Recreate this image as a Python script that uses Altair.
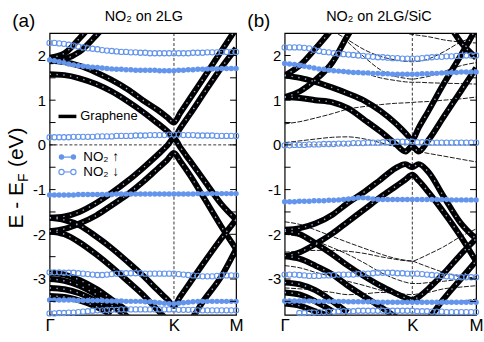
import altair as alt
import pandas as pd

FONT = "Liberation Sans"
BLUE = "#6495ED"

# ---- path coordinate along Γ–K–M (Γ = 0, K = 2/3, M = 1) ----
K_POS = 0.667
G = [0, 0.08, 0.16, 0.25, 0.33, 0.42, 0.5, 0.58, 0.63, 0.667, 0.7, 0.75, 0.83, 0.92, 1.0]
KM = [round(i / 39, 4) for i in range(40)]  # k-points carrying the NO2 projections
Y_TICKS = [-3, -2, -1, 0, 1, 2]
MINOR_TICKS = [-3.5, -3, -2.5, -2, -1.5, -1, -0.5, 0, 0.5, 1, 1.5, 2]

# ---- panel (a): graphene bands (eV) on grid G ----
a_C2 = [1.88, 1.85, 1.77, 1.62, 1.46, 1.24, 1.0, 0.78, 0.62, 0.5, 0.71, 1.02, 1.52, 2.09, 2.6]
a_C1 = [1.58, 1.56, 1.49, 1.36, 1.2, 0.97, 0.74, 0.48, 0.31, 0.16, 0.37, 0.67, 1.17, 1.72, 2.16]
a_V1 = [-1.63, -1.6, -1.5, -1.3, -1.08, -0.8, -0.52, -0.22, -0.02, 0.15, -0.05, -0.34, -0.8, -1.32, -1.67]
a_V2 = [-1.93, -1.88, -1.76, -1.58, -1.36, -1.1, -0.83, -0.53, -0.34, -0.18, -0.36, -0.66, -1.2, -1.82, -2.33]
a_D1 = [-1.63, -1.68, -1.8, -2.05, -2.3, -2.62, -2.92, -3.25, -3.45, -3.6, -3.4, -3.1, -2.62, -2.1, -1.67]
a_D2 = [-1.93, -2.0, -2.18, -2.45, -2.72, -3.05, -3.35, -3.7, -3.92, -4.1, -4.15, -3.95, -3.46, -2.95, -2.33]
a_T1 = [1.95, 2.05, 2.38, 2.8, None, None, None, None, None, None, None, None, None, None, None]
a_T2 = [1.87, 1.92, 2.08, 2.45, 2.8, None, None, None, None, None, None, None, None, None, None]
a_G1 = [-2.86, -2.9, -3.02, -3.22, -3.45, -3.72, None, None, None, None, None, None, None, None, None]
a_G2 = [-3.0, -3.04, -3.15, -3.35, -3.58, -3.85, None, None, None, None, None, None, None, None, None]
a_G3 = [-3.2, -3.23, -3.32, -3.5, -3.72, None, None, None, None, None, None, None, None, None, None]
a_G4 = [-3.38, -3.4, -3.48, -3.62, -3.8, None, None, None, None, None, None, None, None, None, None]

# ---- panel (a): NO2 projected bands on grid KM ----
a_up1 = [1.9, 1.88, 1.86, 1.84, 1.81, 1.79, 1.77, 1.76, 1.75, 1.74,
         1.73, 1.72, 1.71, 1.7, 1.69, 1.69, 1.68, 1.68, 1.67, 1.67,
         1.67, 1.67, 1.67, 1.66, 1.66, 1.66, 1.66, 1.67, 1.67, 1.68,
         1.68, 1.69, 1.69, 1.7, 1.7, 1.7, 1.71, 1.71, 1.71, 1.71]
a_up2 = [-1.12, -1.12, -1.12, -1.12, -1.12, -1.12, -1.11, -1.11, -1.11, -1.11,
         -1.11, -1.11, -1.11, -1.11, -1.1, -1.1, -1.1, -1.1, -1.1, -1.1,
         -1.1, -1.1, -1.1, -1.1, -1.1, -1.1, -1.1, -1.1, -1.1, -1.1,
         -1.1, -1.09, -1.09, -1.09, -1.09, -1.09, -1.09, -1.09, -1.09, -1.09]
a_up3 = [-3.47, -3.47, -3.47, -3.47, -3.47, -3.47, -3.48, -3.48, -3.48, -3.48,
         -3.48, -3.48, -3.49, -3.49, -3.49, -3.49, -3.5, -3.5, -3.5, -3.5,
         -3.51, -3.51, -3.52, -3.53, -3.54, -3.55, -3.55, -3.54, -3.53, -3.52,
         -3.51, -3.5, -3.5, -3.5, -3.5, -3.5, -3.5, -3.5, -3.5, -3.5]
a_dn1 = [2.28, 2.28, 2.27, 2.26, 2.24, 2.22, 2.2, 2.18, 2.16, 2.15,
         2.14, 2.12, 2.11, 2.1, 2.09, 2.08, 2.08, 2.07, 2.07, 2.06,
         2.06, 2.05, 2.05, 2.05, 2.05, 2.05, 2.05, 2.05, 2.05, 2.05,
         2.06, 2.06, 2.06, 2.07, 2.07, 2.07, 2.08, 2.08, 2.08, 2.08]
a_dn2 = [0.17, 0.17, 0.17, 0.17, 0.17, 0.18, 0.18, 0.18, 0.18, 0.18,
         0.19, 0.19, 0.19, 0.19, 0.2, 0.2, 0.2, 0.2, 0.21, 0.21,
         0.21, 0.22, 0.22, 0.22, 0.22, 0.23, 0.23, 0.23, 0.22, 0.22,
         0.22, 0.21, 0.21, 0.21, 0.21, 0.2, 0.2, 0.2, 0.2, 0.2]
a_dn3 = [-2.85, -2.85, -2.85, -2.86, -2.86, -2.86, -2.87, -2.88, -2.89, -2.9,
         -2.91, -2.91, -2.9, -2.89, -2.88, -2.87, -2.87, -2.87, -2.87, -2.87,
         -2.88, -2.88, -2.88, -2.88, -2.88, -2.88, -2.88, -2.89, -2.9, -2.91,
         -2.92, -2.93, -2.94, -2.94, -2.94, -2.93, -2.92, -2.92, -2.92, -2.92]
a_dn4 = [-3.77, -3.77, -3.76, -3.76, -3.75, -3.75, -3.74, -3.73, -3.72, -3.71,
         -3.7, -3.7, -3.69, -3.69, -3.69, -3.68, -3.68, -3.68, -3.68, -3.68,
         -3.68, -3.68, -3.68, -3.68, -3.68, -3.68, -3.68, -3.69, -3.69, -3.69,
         -3.69, -3.7, -3.7, -3.7, -3.7, -3.7, -3.7, -3.7, -3.7, -3.7]

# ---- panel (b): graphene bands on grid G ----
b_TBa = [1.55, 1.78, 2.15, 2.6, None, None, None, None, None, None, None, None, None, None, None]
b_TBb = [1.07, 1.2, 1.45, 1.85, 2.45, 3.0, None, None, None, None, None, None, None, None, None]
b_TBc = [None, None, None, None, None, None, None, None, None, None, None, None, 2.9, 2.3, 1.95]
b_CB2 = [1.55, 1.5, 1.41, 1.28, 1.15, 0.98, 0.76, 0.48, 0.27, 0.12, 0.38, 0.75, 1.36, 2.0, 2.6]
b_CB1 = [1.07, 1.05, 1.0, 0.95, 0.82, 0.55, 0.3, 0.02, -0.15, -0.03, -0.15, 0.1, 0.62, 1.2, 1.72]
b_VB1 = [-1.9, -1.86, -1.76, -1.56, -1.3, -1.04, -0.78, -0.52, -0.43, -0.5, -0.43, -0.6, -1.15, -1.75, -2.1]
b_VB2 = [-2.49, -2.4, -2.22, -1.98, -1.72, -1.43, -1.17, -0.93, -0.78, -0.67, -0.8, -1.05, -1.5, -2.05, -2.6]
b_DB1 = [-1.93, -2.0, -2.2, -2.45, -2.7, -2.95, -3.15, -3.32, -3.42, -3.47, -3.4, -3.22, -2.88, -2.45, -2.1]
b_DB2 = [-2.49, -2.55, -2.7, -2.9, -3.15, -3.4, -3.62, -3.85, -4.0, -4.1, -4.1, -3.9, -3.45, -3.0, -2.6]
b_GB1 = [-3.08, -3.12, -3.25, -3.5, -3.75, None, None, None, None, None, None, None, None, None, None]
b_GB2 = [-3.3, -3.35, -3.5, -3.72, None, None, None, None, None, None, None, None, None, None, None]
b_GB3 = [-3.55, -3.6, -3.72, -3.85, None, None, None, None, None, None, None, None, None, None, None]

# ---- panel (b): substrate (SiC) bands, thin ----
b_s1 = [0.47, 0.52, 0.6, 0.7, 0.8, 0.86, 0.9, 0.93, 0.94, 0.95, 0.96, 0.97, 1.0, 1.03, 1.07]
b_s2 = [0.05, 0.09, 0.13, 0.17, 0.18, 0.13, 0.05, -0.04, -0.09, -0.12, -0.15, -0.19, -0.25, -0.32, -0.38]
b_s3 = [None, None, None, 2.55, 2.35, 2.12, 1.98, 1.9, 1.87, 1.86, 1.87, 1.92, 2.08, 2.3, 2.42]
b_s4 = [None, None, None, None, 2.3, 1.95, 1.68, 1.53, 1.49, 1.47, 1.49, 1.53, 1.64, 1.77, 1.84]
b_s5 = [None, None, None, None, None, 1.6, 1.5, 1.44, 1.41, 1.4, 1.4, 1.39, 1.38, 1.37, 1.36]
b_s6 = [None, None, None, None, None, 2.7, 2.62, 2.55, 2.5, 2.47, 2.45, 2.42, 2.35, 2.3, 2.28]
b_s7 = [-1.72, -1.78, -1.9, -2.05, -2.18, -2.32, -2.44, -2.54, -2.58, -2.6, -2.55, -2.45, -2.28, -2.05, -1.88]
b_s8 = [-2.4, -2.38, -2.36, -2.36, -2.38, -2.43, -2.5, -2.56, -2.59, -2.6, -2.65, -2.73, -2.85, -2.95, -3.0]
b_s9 = [-2.0, -2.05, -2.15, -2.3, -2.45, -2.65, -2.85, -3.0, -3.07, -3.1, -3.1, -3.08, -3.05, -3.0, -2.95]
b_s10 = [-3.2, -3.22, -3.25, -3.3, -3.35, -3.33, -3.3, -3.32, -3.34, -3.35, -3.33, -3.3, -3.22, -3.18, -3.15]
b_s11 = [-2.7, -2.75, -2.85, -2.95, -3.05, -3.15, -3.25, -3.35, -3.4, -3.45, -3.48, -3.52, -3.55, -3.5, -3.45]

# ---- panel (b): NO2 projected bands on grid KM ----
b_up1 = [1.82, 1.81, 1.8, 1.78, 1.76, 1.74, 1.72, 1.7, 1.69, 1.67,
         1.66, 1.65, 1.64, 1.63, 1.62, 1.62, 1.61, 1.61, 1.6, 1.6,
         1.59, 1.59, 1.58, 1.58, 1.58, 1.58, 1.58, 1.58, 1.59, 1.59,
         1.6, 1.6, 1.61, 1.61, 1.62, 1.62, 1.63, 1.63, 1.63, 1.63]
b_up2 = [-1.27, -1.27, -1.27, -1.26, -1.26, -1.26, -1.25, -1.25, -1.25, -1.24,
         -1.24, -1.23, -1.22, -1.21, -1.2, -1.18, -1.18, -1.19, -1.21, -1.22,
         -1.22, -1.22, -1.22, -1.22, -1.22, -1.22, -1.22, -1.22, -1.22, -1.22,
         -1.22, -1.22, -1.22, -1.22, -1.23, -1.23, -1.23, -1.23, -1.23, -1.23]
b_up3 = [-3.49, -3.49, -3.49, -3.49, -3.49, -3.49, -3.5, -3.5, -3.5, -3.5,
         -3.5, -3.5, -3.5, -3.51, -3.51, -3.51, -3.51, -3.51, -3.51, -3.52,
         -3.52, -3.52, -3.52, -3.52, -3.52, -3.52, -3.52, -3.52, -3.52, -3.52,
         -3.52, -3.52, -3.52, -3.52, -3.52, -3.52, -3.52, -3.52, -3.52, -3.52]
b_dn1 = [2.18, 2.18, 2.18, 2.18, 2.17, 2.16, 2.13, 2.1, 2.08, 2.07,
         2.05, 2.04, 2.03, 2.02, 2.01, 2.0, 1.99, 1.98, 1.97, 1.96,
         1.96, 1.95, 1.94, 1.94, 1.93, 1.93, 1.93, 1.93, 1.94, 1.95,
         1.96, 1.97, 1.97, 1.98, 1.98, 1.99, 1.99, 2.0, 2.0, 2.0]
b_dn2 = [-0.01, -0.01, 0.0, 0.0, 0.0, 0.01, 0.01, 0.01, 0.02, 0.02,
         0.02, 0.03, 0.03, 0.03, 0.04, 0.04, 0.04, 0.05, 0.05, 0.05,
         0.06, 0.06, 0.06, 0.07, 0.07, 0.07, 0.07, 0.06, 0.06, 0.06,
         0.05, 0.05, 0.05, 0.05, 0.05, 0.05, 0.05, 0.05, 0.05, 0.05]
b_dn3 = [-2.9, -2.9, -2.9, -2.91, -2.92, -2.93, -2.93, -2.93, -2.92, -2.92,
         -2.91, -2.9, -2.9, -2.9, -2.9, -2.89, -2.88, -2.88, -2.87, -2.86,
         -2.86, -2.86, -2.86, -2.87, -2.87, -2.88, -2.88, -2.88, -2.89, -2.9,
         -2.91, -2.92, -2.93, -2.94, -2.95, -2.96, -2.96, -2.96, -2.96, -2.96]
b_dn4 = [None, None, None, -3.76, -3.76, -3.75, -3.75, -3.74, -3.74, -3.73,
         -3.73, -3.72, -3.72, -3.72, -3.72, -3.71, -3.71, -3.71, -3.71, -3.71,
         -3.71, -3.71, -3.71, -3.71, -3.71, -3.71, -3.71, -3.72, -3.72, -3.72,
         -3.73, -3.73, -3.73, -3.74, -3.74, -3.74, -3.74, -3.74, -3.74, -3.74]


def lines_df(bands):
    rows = []
    for name, vals in bands.items():
        for k, e in zip(G, vals):
            if e is not None:
                rows.append({"band": name, "k": k, "E": e})
    return pd.DataFrame(rows)


def pts_df(bands):
    rows = []
    for name, vals in bands.items():
        for k, e in zip(KM, vals):
            if e is not None:
                rows.append({"band": name, "k": k, "E": e})
    return pd.DataFrame(rows)


H = 284
XS = alt.Scale(domain=[0, 1], nice=False, zero=False)
YS = alt.Scale(domain=[-3.8, 2.5], nice=False, zero=False)
XAX = alt.Axis(values=[0, K_POS, 1],
               labelExpr="datum.value < 0.1 ? 'Γ' : (datum.value < 0.9 ? 'K' : 'M')",
               ticks=False, domain=False, grid=False, labelFlush=False,
               labelOverlap=False, labelFontSize=17, labelPadding=3,
               labelFont=FONT, labelColor="black", title=None)
YAX = alt.Axis(values=Y_TICKS,
               labelExpr="datum.value < 0 ? '-' + abs(datum.value) : '' + datum.value",
               ticks=False, domain=False, grid=False, labelFontSize=15,
               labelPadding=4, labelFont=FONT, labelColor="black", title=None)
DUMMY = pd.DataFrame({"d": [0]})


def X(f):
    return alt.X(f, type="quantitative", scale=XS, axis=XAX)


def Y(f):
    return alt.Y(f, type="quantitative", scale=YS, axis=YAX)


def txt(x, y, s, size, align="center", angle=0, baseline="middle"):
    kw = dict(align=align, baseline=baseline, fontSize=size, font=FONT, color="black")
    if angle:
        kw["angle"] = angle
    return alt.Chart(DUMMY).mark_text(**kw).encode(
        x=alt.value(x), y=alt.value(y), text=alt.value(s))


def panel(width, thick, thin, ups, dns, label, title):
    thick_df = lines_df(thick)
    layers = [
        alt.Chart(DUMMY).mark_rule(strokeDash=[3, 2], strokeWidth=0.8, color="black").encode(
            x=alt.X(datum=K_POS, type="quantitative", scale=XS, axis=XAX)),
        alt.Chart(DUMMY).mark_rule(strokeDash=[3, 2], strokeWidth=0.8, color="black").encode(
            y=alt.Y(datum=0, type="quantitative", scale=YS, axis=YAX)),
    ]
    if thin:
        layers.append(alt.Chart(lines_df(thin)).mark_line(
            interpolate="monotone", strokeWidth=0.9, color="black",
            strokeDash=[5, 1.5], clip=True).encode(x=X("k"), y=Y("E"), detail="band:N"))
    layers.append(alt.Chart(thick_df).mark_line(
        interpolate="monotone", strokeWidth=6, color="black", clip=True,
        strokeJoin="round").encode(x=X("k"), y=Y("E"), detail="band:N"))
    layers.append(alt.Chart(thick_df).mark_line(
        interpolate="monotone", strokeWidth=1.4, color="#8fa8de", clip=True,
        strokeDash=[1.4, 5.5]).encode(x=X("k"), y=Y("E"), detail="band:N"))
    layers.append(alt.Chart(pts_df(ups)).mark_point(
        shape="circle", filled=True, size=30, color=BLUE, opacity=1).encode(
        x=X("k"), y=Y("E"), detail="band:N"))
    layers.append(alt.Chart(pts_df(dns)).mark_point(
        shape="circle", filled=False, size=28, strokeWidth=1.1, color=BLUE, opacity=1).encode(
        x=X("k"), y=Y("E"), detail="band:N"))
    tick_df = pd.DataFrame({"v": MINOR_TICKS})
    layers.append(alt.Chart(tick_df).mark_rule(color="black", strokeWidth=1).encode(
        y=Y("v"), x=alt.value(0), x2=alt.value(6)))
    layers.append(alt.Chart(tick_df).mark_rule(color="black", strokeWidth=1).encode(
        y=Y("v"), x=alt.value(width - 6), x2=alt.value(width)))
    layers.append(txt(-26, -12, label, 19))
    layers.append(txt(95, -16, title, 14.5))
    return layers


layers_a = panel(
    188,
    {"C2": a_C2, "C1": a_C1, "V1": a_V1, "V2": a_V2, "D1": a_D1, "D2": a_D2,
     "T1": a_T1, "T2": a_T2, "G1": a_G1, "G2": a_G2, "G3": a_G3, "G4": a_G4},
    None,
    {"u1": a_up1, "u2": a_up2, "u3": a_up3},
    {"d1": a_dn1, "d2": a_dn2, "d3": a_dn3, "d4": a_dn4},
    "(a)", "NO₂ on 2LG")

# y-axis title  E - E_F (eV)
layers_a += [
    txt(-27, 197, "E - E", 21, align="left", angle=270, baseline="alphabetic"),
    txt(-22, 150, "F", 14, align="left", angle=270, baseline="alphabetic"),
    txt(-27, 135, "(eV)", 21, align="left", angle=270, baseline="alphabetic"),
]
# legend
layers_a += [
    alt.Chart(DUMMY).mark_rule(color="black", strokeWidth=3.5).encode(
        x=alt.value(9), x2=alt.value(27), y=alt.value(84)),
    txt(31, 84, "Graphene", 13, align="left"),
    alt.Chart(DUMMY).mark_rule(color=BLUE, strokeWidth=1.3).encode(
        x=alt.value(12), x2=alt.value(24), y=alt.value(125)),
    alt.Chart(pd.DataFrame({"px": [12, 24]})).mark_point(
        shape="circle", filled=True, size=30, color=BLUE, opacity=1).encode(
        x=alt.X("px:Q", scale=None, axis=None), y=alt.value(125)),
    txt(34, 125, "NO₂ ↑", 13.5, align="left"),
    alt.Chart(DUMMY).mark_rule(color=BLUE, strokeWidth=1.1).encode(
        x=alt.value(12), x2=alt.value(24), y=alt.value(140)),
    alt.Chart(pd.DataFrame({"px": [12, 24]})).mark_point(
        shape="circle", filled=True, size=30, color="white", opacity=1).encode(
        x=alt.X("px:Q", scale=None, axis=None), y=alt.value(140)),
    alt.Chart(pd.DataFrame({"px": [12, 24]})).mark_point(
        shape="circle", filled=False, size=28, strokeWidth=1.1, color=BLUE, opacity=1).encode(
        x=alt.X("px:Q", scale=None, axis=None), y=alt.value(140)),
    txt(34, 140, "NO₂ ↓", 13.5, align="left"),
    # invisible anchor fixing the outer margin
    alt.Chart(DUMMY).mark_rule(color="white", strokeWidth=1).encode(
        x=alt.value(-48), x2=alt.value(-47), y=alt.value(-30)),
]

layers_b = panel(
    193,
    {"TBa": b_TBa, "TBb": b_TBb, "TBc": b_TBc, "CB2": b_CB2, "CB1": b_CB1,
     "VB1": b_VB1, "VB2": b_VB2, "DB1": b_DB1, "DB2": b_DB2,
     "GB1": b_GB1, "GB2": b_GB2, "GB3": b_GB3},
    {"s1": b_s1, "s2": b_s2, "s3": b_s3, "s4": b_s4, "s5": b_s5, "s6": b_s6,
     "s7": b_s7, "s8": b_s8, "s9": b_s9, "s10": b_s10, "s11": b_s11},
    {"u1": b_up1, "u2": b_up2, "u3": b_up3},
    {"d1": b_dn1, "d2": b_dn2, "d3": b_dn3, "d4": b_dn4},
    "(b)", "NO₂ on 2LG/SiC")

chart_a = alt.layer(*layers_a).properties(width=188, height=H)
chart_b = alt.layer(*layers_b).properties(width=193, height=H)

chart = alt.hconcat(chart_a, chart_b, spacing=49, bounds="flush").properties(
    padding=0, background="white"
).configure_view(stroke="black", strokeWidth=1.2)

chart.save("out.html", embed_options={"renderer": "svg", "actions": False})
